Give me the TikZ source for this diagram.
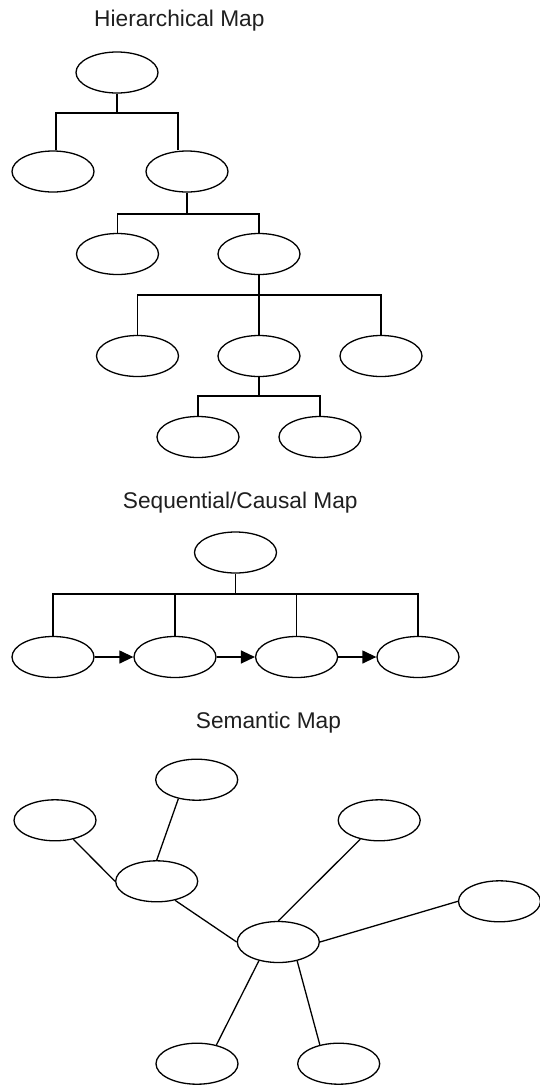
\documentclass[tikz,border=0pt]{standalone}
\usepackage{fontspec}
\setmainfont{Liberation Sans}
\usetikzlibrary{shapes.geometric,arrows.meta}
\begin{document}
\begin{tikzpicture}[x=1pt,y=-1pt,
  oval/.style={draw, ellipse, minimum width=82pt, minimum height=41pt, inner sep=0pt, line width=1.3pt},
  link/.style={line width=1.3pt},
  seqarrow/.style={line width=1.3pt, -{Triangle[length=14pt,width=13pt]}},
  maptitle/.style={anchor=base west, inner sep=0pt, font=\fontsize{22.7}{27}\selectfont, text=black!88}
]
\useasboundingbox (0,0) rectangle (539,1085);

% ---------- Hierarchical map ----------
\node[maptitle] (t1) at (94,26) {Hierarchical Map};
\node[oval] (H1)  at (117,72.5) {};
\node[oval] (H2a) at (53,171.5) {};
\node[oval] (H2b) at (187,171.5) {};
\node[oval] (H3a) at (117.5,254) {};
\node[oval] (H3b) at (259,254) {};
\node[oval] (H4a) at (137.5,356) {};
\node[oval] (H4b) at (259,356) {};
\node[oval] (H4c) at (381,356) {};
\node[oval] (H5a) at (198,437) {};
\node[oval] (H5b) at (320,437) {};

\coordinate (j1) at (117,113);
\draw[link] (H1.south) -- (j1);
\draw[link] ([xshift=3pt]H2a.north) |- (j1) -| ([xshift=-9pt]H2b.north);

\coordinate (j2) at (187,214);
\draw[link] (H2b.south) -- (j2);
\draw[link] (H3a.north) |- (j2) -| (H3b.north);

\coordinate (j3) at (259,295);
\draw[link] (H3b.south) -- (H4b.north);
\draw[link] (H4a.north) |- (j3) -| (H4c.north);

\coordinate (j4) at (259,396);
\draw[link] (H4b.south) -- (j4);
\draw[link] (H5a.north) |- (j4) -| (H5b.north);

% ---------- Sequential/Causal map ----------
\node[maptitle] (t2) at (122.7,508) {Sequential/Causal Map};
\node[oval] (S0) at (235.5,552.5) {};
\node[oval] (S1) at (53,657) {};
\node[oval] (S2) at (175,657) {};
\node[oval] (S3) at (296.6,657) {};
\node[oval] (S4) at (418,657) {};

\coordinate (k1) at (235.5,594);
\draw[link] (S0.south) -- (k1);
\draw[link] (S1.north) |- (k1) -| (S4.north);
\draw[link] (S2.north) -- (S2.north |- k1);
\draw[link] (S3.north) -- (S3.north |- k1);
\draw[seqarrow] (S1.east) -- (S2.west);
\draw[seqarrow] (S2.east) -- (S3.west);
\draw[seqarrow] (S3.east) -- (S4.west);

% ---------- Semantic map ----------
\node[maptitle] (t3) at (195.7,728.3) {Semantic Map};
\node[oval] (E1) at (196.7,779.7) {};
\node[oval] (E2) at (55,820.3) {};
\node[oval] (E3) at (379.2,820.3) {};
\node[oval] (E4) at (156.7,881.3) {};
\node[oval] (E5) at (499.5,901.3) {};
\node[oval] (E6) at (278.3,942) {};
\node[oval] (E7) at (197,1063.7) {};
\node[oval] (E8) at (338.7,1063.7) {};

\draw[link] (E2.-46) -- (E4.west);
\draw[link] (E1.-134) -- (E4.north);
\draw[link] (E4.-46) -- (E6.west);
\draw[link] (E3.-135) -- (E6.north);
\draw[link] (E6.east) -- (E5.west);
\draw[link] (E6.-136) -- (E7.44);
\draw[link] (E6.-45) -- (E8.135);
\end{tikzpicture}
\end{document}
